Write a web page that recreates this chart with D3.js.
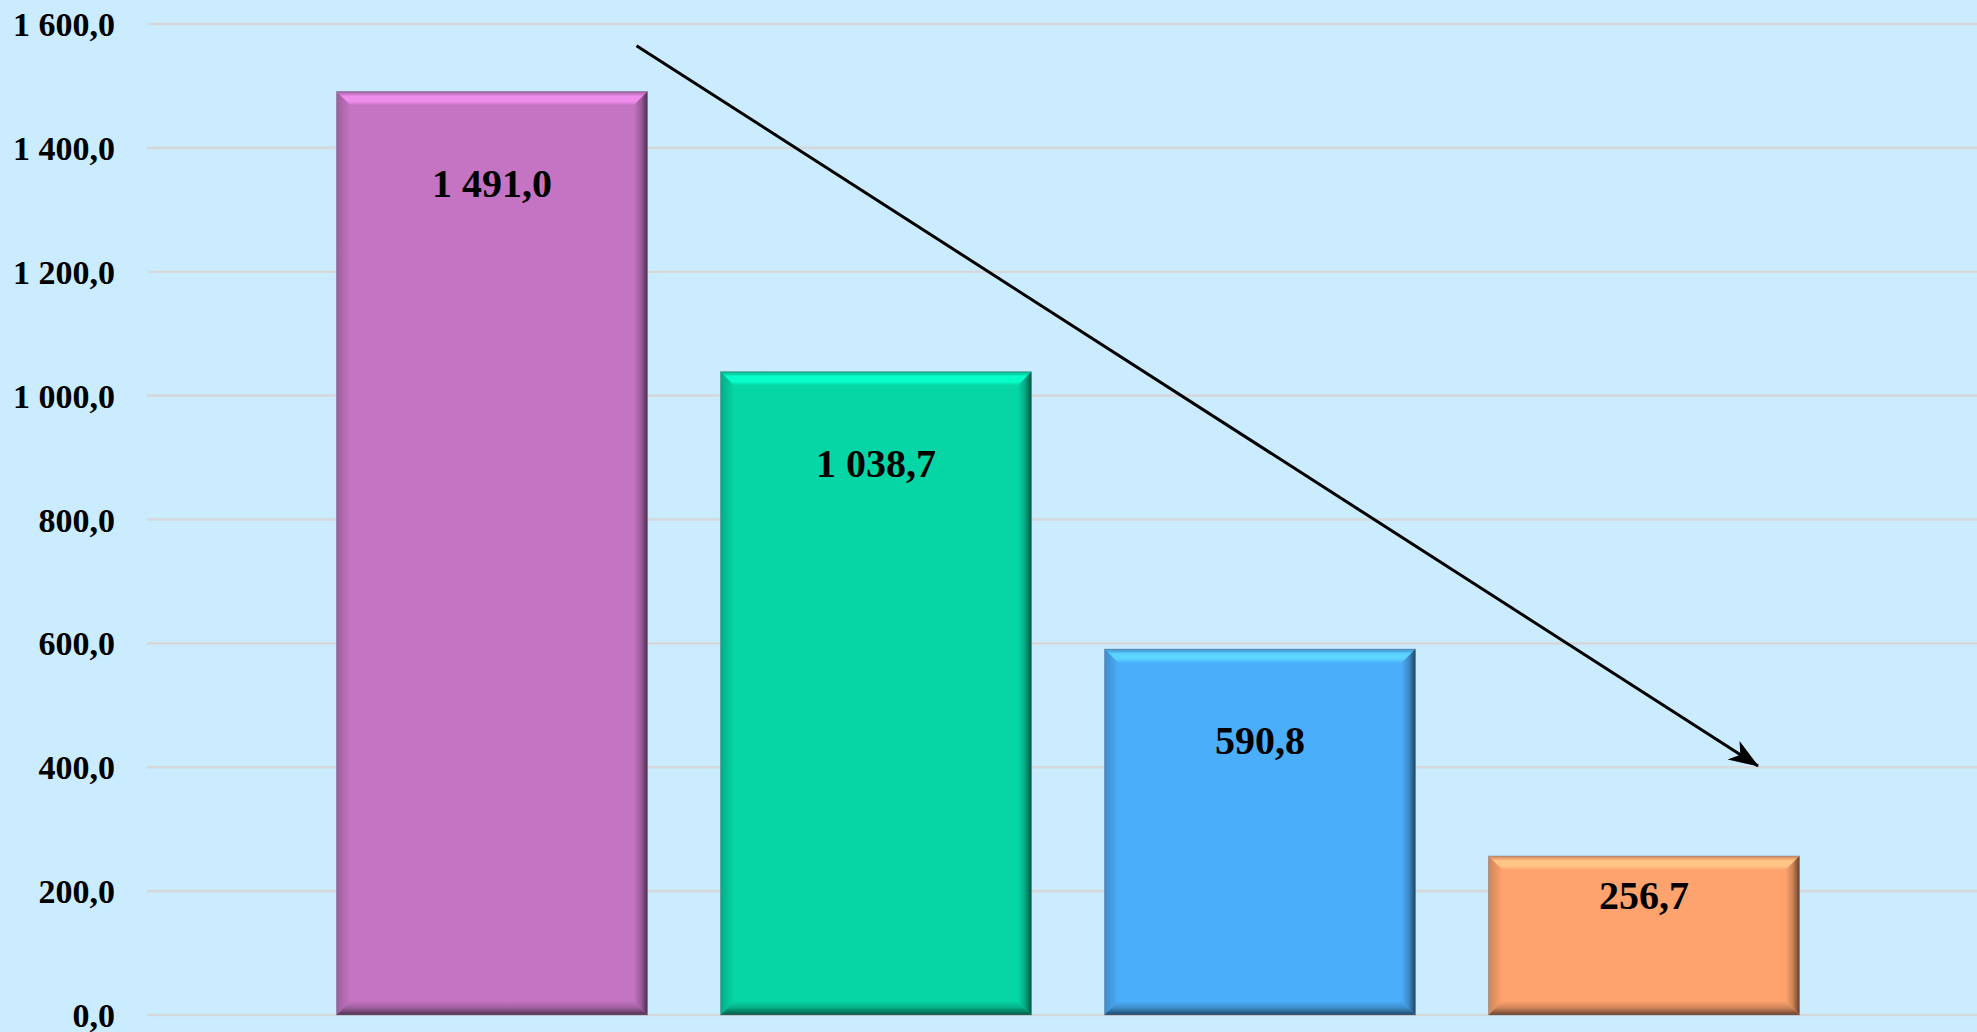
<!DOCTYPE html>
<html>
<head>
<meta charset="utf-8">
<script src="https://cdn.jsdelivr.net/npm/d3@7"></script>
<style>
	html, body { margin: 0; padding: 0; background: #cbebfe; overflow: hidden; }
	text { font-family: "Liberation Serif", "Times New Roman", serif; font-weight: bold; fill: #000; }
</style>
</head>
<body>
<div id="chart"></div>
<script>
// values
var categories = ["A", "B", "C", "D"];
var values = [1491.0, 1038.7, 590.8, 256.7];
var barColors = ["#c474c2", "#06d6a6", "#4baefa", "#ffa36e"];
var yTicks = [0, 200, 400, 600, 800, 1000, 1200, 1400, 1600];
// trend arrow: from just above the first bar down towards the last one
var arrowFrom = { category: "A", value: 1565 };
var arrowTo = { category: "D", value: 402 };

var width = 1977, height = 1032;
var locale = d3.formatLocale({ decimal: ",", thousands: "\u00a0", grouping: [3], currency: ["", ""] });
var fmt = locale.format(",.1f");

var svg = d3.select("#chart").append("svg")
	.attr("width", width)
	.attr("height", height);

svg.append("rect").attr("width", width).attr("height", height).attr("fill", "#cbebfe");

var y = d3.scaleLinear().domain([0, 1600]).range([1015, 24]);
var x = d3.scaleBand().domain(categories).range([300, 1836]).paddingInner(0.19).paddingOuter(0.095);

// grid lines
svg.append("g").selectAll("line")
	.data(yTicks).enter().append("line")
	.attr("x1", 147).attr("x2", width)
	.attr("y1", d => y(d)).attr("y2", d => y(d))
	.style("stroke", "#d6d9dc")
	.style("stroke-width", "2.6px");

// y axis labels
var yAxis = d3.axisLeft(y).tickValues(yTicks).tickFormat(fmt).tickSize(0).tickPadding(0);
var ag = svg.append("g").attr("transform", "translate(115,0)").call(yAxis);
ag.select(".domain").remove();
ag.selectAll("text")
	.style("font-family", "'Liberation Serif', 'Times New Roman', serif")
	.style("font-weight", "bold")
	.style("font-size", "34px")
	.attr("dy", "0.34em")
	.style("fill", "#000");

var defs = svg.append("defs");
function grad(id, x1, y1, x2, y2, stops){
	var g = defs.append("linearGradient").attr("id", id)
		.attr("x1", x1).attr("y1", y1).attr("x2", x2).attr("y2", y2);
	stops.forEach(s => g.append("stop").attr("offset", s[0]).attr("stop-color", s[1]));
}

var bev = 14;
categories.forEach(function(c, i){
	var base = d3.color(barColors[i]);
	var light = base.brighter(0.55).formatHex();
	var dark = base.darker(2.6).formatHex();
	var mid = base.darker(0.6).formatHex();
	var b = base.formatHex();
	grad("top" + i, 0, 0, 0, 1, [[0, mid], [0.35, light], [0.7, light], [1, b]]);
	grad("right" + i, 0, 0, 1, 0, [[0, b], [0.5, mid], [1, dark]]);
	grad("bottom" + i, 0, 0, 0, 1, [[0, b], [0.5, mid], [1, dark]]);
	grad("left" + i, 0, 0, 1, 0, [[0, mid], [1, b]]);

	var x0 = x(c), x1 = x(c) + x.bandwidth();
	var y0 = y(values[i]), y1 = y(0);
	var g = svg.append("g");
	g.append("rect")
		.attr("x", x0).attr("y", y0)
		.attr("width", x1 - x0).attr("height", y1 - y0)
		.attr("fill", b);
	var pts = {
		top: [[x0, y0], [x1, y0], [x1 - bev, y0 + bev], [x0 + bev, y0 + bev]],
		left: [[x0, y0], [x0 + bev, y0 + bev], [x0 + bev, y1 - bev], [x0, y1]],
		right: [[x1, y0], [x1, y1], [x1 - bev, y1 - bev], [x1 - bev, y0 + bev]],
		bottom: [[x0, y1], [x1, y1], [x1 - bev, y1 - bev], [x0 + bev, y1 - bev]]
	};
	Object.keys(pts).forEach(function(k){
		g.append("polygon")
			.attr("points", pts[k].map(p => p.join(",")).join(" "))
			.attr("fill", "url(#" + k + i + ")");
	});
	g.append("rect")
		.attr("x", x0).attr("y", y0)
		.attr("width", x1 - x0).attr("height", y1 - y0)
		.attr("fill", "none")
		.style("stroke", "#7a8a99")
		.style("stroke-opacity", 0.5)
		.style("stroke-width", "1px");

	g.append("text")
		.attr("x", (x0 + x1) / 2)
		.attr("y", y0 + Math.min(105, (y1 - y0) / 3))
		.attr("text-anchor", "middle")
		.style("font-size", "40px")
		.text(fmt(values[i]));
});

// arrow
defs.append("marker")
	.attr("id", "head")
	.attr("viewBox", "0 0 30 24")
	.attr("refX", 29).attr("refY", 12)
	.attr("markerWidth", 30).attr("markerHeight", 24)
	.attr("markerUnits", "userSpaceOnUse")
	.attr("orient", "auto")
	.append("path")
	.attr("d", "M0,1 L30,12 L0,23 L8,12 Z")
	.attr("fill", "#000");

var ax1 = x(arrowFrom.category) + x.bandwidth() - 11;
var ax2 = x(arrowTo.category) + x.bandwidth() / 2 + 114;
svg.append("line")
	.attr("x1", ax1).attr("y1", y(arrowFrom.value))
	.attr("x2", ax2).attr("y2", y(arrowTo.value))
	.style("stroke", "#000")
	.style("stroke-width", "3px")
	.attr("marker-end", "url(#head)");
</script>
</body>
</html>
